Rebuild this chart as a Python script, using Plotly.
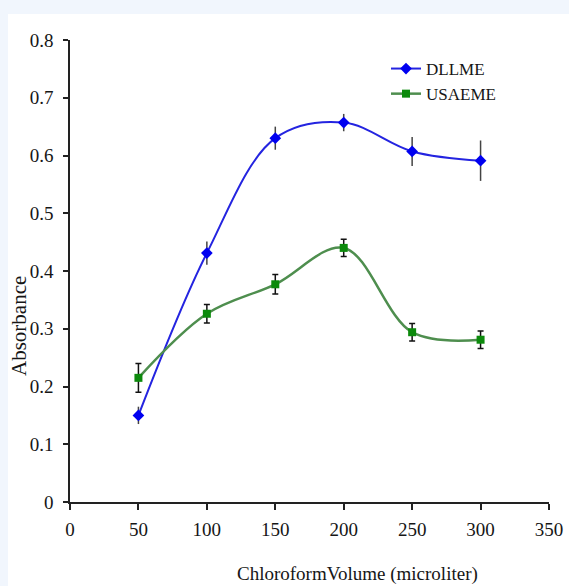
import plotly.graph_objects as go

volume = [50, 100, 150, 200, 250, 300]
dllme = [0.150, 0.431, 0.630, 0.657, 0.607, 0.591]
dllme_err = [0.015, 0.020, 0.020, 0.015, 0.025, 0.035]
usaeme = [0.215, 0.326, 0.377, 0.440, 0.294, 0.281]
usaeme_err = [0.025, 0.016, 0.017, 0.015, 0.015, 0.015]

x_ticks = [0, 50, 100, 150, 200, 250, 300, 350]
y_ticks = [0, 0.1, 0.2, 0.3, 0.4, 0.5, 0.6, 0.7, 0.8]
y_tick_text = ["0", "0.1", "0.2", "0.3", "0.4", "0.5", "0.6", "0.7", "0.8"]

FONT = "Liberation Serif"
TXT = "#161616"

fig = go.Figure()
fig.add_trace(go.Scatter(
    x=volume, y=dllme, name="DLLME", mode="lines+markers",
    line=dict(color="#2424e0", width=2, shape="spline", smoothing=1.0),
    marker=dict(symbol="diamond", size=9, color="#0000f0"),
    error_y=dict(type="data", array=dllme_err, visible=True, width=0,
                 color="#444444", thickness=1.5),
))
fig.add_trace(go.Scatter(
    x=volume, y=usaeme, name="USAEME", mode="lines+markers",
    line=dict(color="#4e8e4e", width=2.5, shape="spline", smoothing=1.0),
    marker=dict(symbol="square", size=8, color="#0c8a0c"),
    error_y=dict(type="data", array=usaeme_err, visible=True, width=3,
                 color="#111111", thickness=1.5),
))

W, H = 569, 586
L, R, T, B = 70, 20, 40, 84
pw, ph = W - L - R, H - T - B

def px(xp):
    return (xp - L) / pw

def py(yp):
    return (H - B - yp) / ph

fig.update_layout(
    width=W, height=H,
    margin=dict(l=L, r=R, t=T, b=B, autoexpand=False),
    paper_bgcolor="#f1f6fd",
    plot_bgcolor="white",
    font=dict(family=FONT, color=TXT, size=18),
    showlegend=True,
    legend=dict(x=px(386), y=py(51), xanchor="left", yanchor="top",
                bgcolor="rgba(0,0,0,0)", font=dict(family=FONT, size=17, color=TXT),
                itemwidth=30, tracegroupgap=0),
    shapes=[dict(type="rect", xref="paper", yref="paper", layer="below",
                 x0=px(8), x1=px(W + 10), y0=py(14), y1=py(H + 10),
                 fillcolor="white", line=dict(width=0))],
    annotations=[
        dict(text="Absorbance", xref="paper", yref="paper", x=px(19), y=py(326),
             textangle=-90, showarrow=False, font=dict(family=FONT, size=21, color=TXT),
             xanchor="center", yanchor="middle"),
        dict(text="ChloroformVolume (microliter)", xref="paper", yref="paper",
             x=px(357), y=py(574), showarrow=False,
             font=dict(family=FONT, size=19, color=TXT),
             xanchor="center", yanchor="middle"),
    ],
)
fig.update_xaxes(range=[0, 350], tickvals=x_ticks, ticks="outside", ticklen=6,
                 tickwidth=1.5, tickcolor="#222222", showline=True, linecolor="#222222",
                 linewidth=1.5, showgrid=False, zeroline=False, ticklabelstandoff=3,
                 automargin=False, tickfont=dict(family=FONT, size=19, color=TXT))
fig.update_yaxes(range=[0, 0.8], tickvals=y_ticks, ticktext=y_tick_text, ticks="outside",
                 ticklen=5, tickwidth=1.5, tickcolor="#222222", showline=True,
                 linecolor="#222222", linewidth=1.5, showgrid=False, zeroline=False,
                 ticklabelstandoff=6, automargin=False, tickfont=dict(family=FONT, size=19, color=TXT))

fig.write_html("out.html",
               config={"displayModeBar": False},
               post_script="document.body.style.margin='0px';document.body.style.padding='0px';"
                           "document.body.style.overflow='hidden';")
